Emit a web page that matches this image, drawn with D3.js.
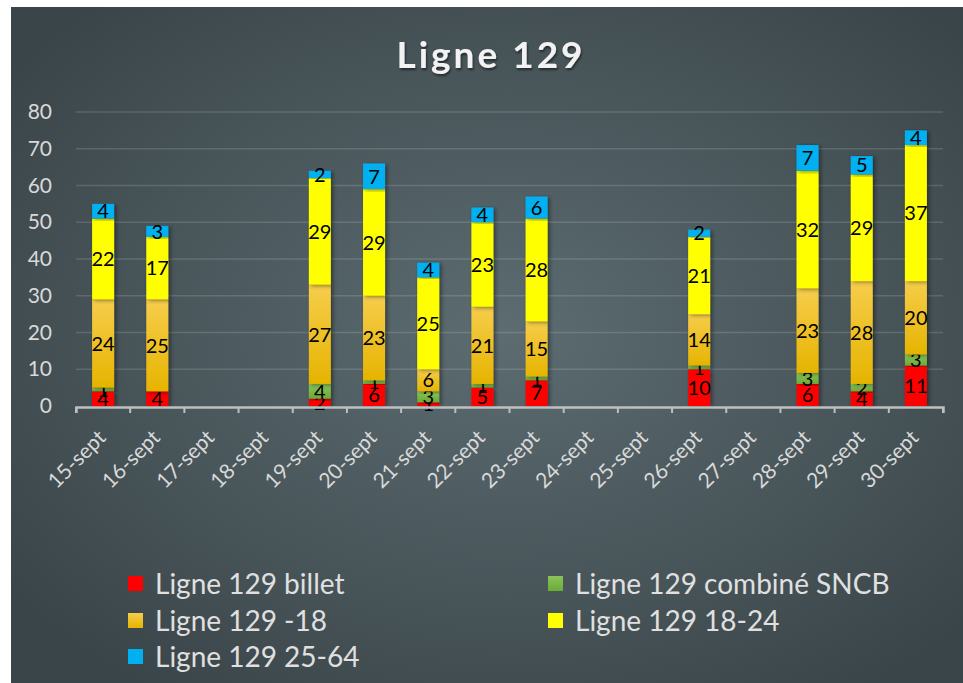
<!DOCTYPE html>
<html>
<head>
<meta charset="utf-8">
<script src="https://cdn.jsdelivr.net/npm/d3@7"></script>
<style>
  body { margin: 0; background: #fff; }
  svg { display: block; font-family: Lato, "Open Sans", sans-serif; }
</style>
</head>
<body>
<svg id="chart" width="963" height="683"></svg>
<script>
// data
var dates = ['15-sept','16-sept','17-sept','18-sept','19-sept','20-sept','21-sept','22-sept',
             '23-sept','24-sept','25-sept','26-sept','27-sept','28-sept','29-sept','30-sept'];
var seriesNames = ['Ligne 129 billet','Ligne 129 combiné SNCB','Ligne 129 -18','Ligne 129 18-24','Ligne 129 25-64'];
var billet  = [4, 4, 0, 0, 2, 6, 1, 5, 7, 0, 0, 10, 0, 6, 4, 11];
var combine = [1, 0, 0, 0, 4, 1, 3, 1, 1, 0, 0, 1, 0, 3, 2, 3];
var moins18 = [24, 25, 0, 0, 27, 23, 6, 21, 15, 0, 0, 14, 0, 23, 28, 20];
var a18_24  = [22, 17, 0, 0, 29, 29, 25, 23, 28, 0, 0, 21, 0, 32, 29, 37];
var a25_64  = [4, 3, 0, 0, 2, 7, 4, 4, 6, 0, 0, 2, 0, 7, 5, 4];
var yTicks = [0, 10, 20, 30, 40, 50, 60, 70, 80];

var keys = ['billet','combine','moins18','a18_24','a25_64'];
var fills = ['url(#gRed)','url(#gGreen)','url(#gOrange)','url(#gYellow)','url(#gBlue)'];

var table = dates.map(function(d, i) {
  return {date: d, billet: billet[i], combine: combine[i], moins18: moins18[i],
          a18_24: a18_24[i], a25_64: a25_64[i]};
});

var svg = d3.select('#chart');
var defs = svg.append('defs');

var bg = defs.append('radialGradient').attr('id', 'bg')
  .attr('cx', '52%').attr('cy', '48%').attr('r', '65%');
bg.append('stop').attr('offset', '0%').attr('stop-color', '#5c6c71');
bg.append('stop').attr('offset', '100%').attr('stop-color', '#3a4549');

function vgrad(id, top, bottom) {
  var g = defs.append('linearGradient').attr('id', id)
    .attr('x1', 0).attr('y1', 0).attr('x2', 0).attr('y2', 1);
  g.append('stop').attr('offset', '0%').attr('stop-color', top);
  g.append('stop').attr('offset', '100%').attr('stop-color', bottom);
}
vgrad('gRed', '#ff0000', '#ff0000');
vgrad('gGreen', '#8cc35a', '#6aab35');
vgrad('gOrange', '#f6cd4c', '#e6b400');
vgrad('gYellow', '#ffff00', '#ffff00');
vgrad('gBlue', '#00b0f0', '#00b0f0');

var shadow = defs.append('filter').attr('id', 'shadow')
  .attr('x', '-20%').attr('y', '-5%').attr('width', '160%').attr('height', '115%');
shadow.append('feDropShadow').attr('dx', 2).attr('dy', 1).attr('stdDeviation', 2)
  .attr('flood-color', '#000').attr('flood-opacity', 0.45);

var tshadow = defs.append('filter').attr('id', 'tshadow');
tshadow.append('feDropShadow').attr('dx', 1).attr('dy', 2).attr('stdDeviation', 1.2)
  .attr('flood-color', '#000').attr('flood-opacity', 0.5);

svg.append('rect')
  .attr('x', 11).attr('y', 7).attr('width', 952).attr('height', 676)
  .attr('fill', 'url(#bg)');

// title
svg.append('text')
  .attr('x', 491).attr('y', 68)
  .attr('text-anchor', 'middle')
  .attr('fill', '#f2f2f2')
  .attr('font-size', 37).attr('font-weight', 'bold')
  .attr('letter-spacing', 3)
  .attr('filter', 'url(#tshadow)')
  .text('Ligne 129');

// scales
var x = d3.scaleBand().domain(dates).range([76, 943]).padding(0);
var y = d3.scaleLinear().domain([0, 80]).range([406, 112]);
var barW = 22;

// gridlines
svg.append('g').selectAll('line')
  .data(yTicks.filter(function(t) { return t > 0; }))
  .enter().append('line')
    .attr('x1', 76).attr('x2', 943)
    .attr('y1', function(d) { return y(d); })
    .attr('y2', function(d) { return y(d); })
    .attr('stroke', '#ffffff').attr('stroke-opacity', 0.14).attr('stroke-width', 1.5);

// y axis labels
var yAxis = d3.axisLeft(y).tickValues(yTicks).tickSize(0).tickPadding(0);
svg.append('g')
  .attr('transform', 'translate(52,0)')
  .call(yAxis)
  .call(function(g) { g.select('.domain').remove(); })
  .selectAll('text')
    .attr('fill', '#d9d9d9')
    .attr('font-size', 21)
    .attr('font-family', 'Lato, "Open Sans", sans-serif');

// stacked bars
var stack = d3.stack().keys(keys)(table);
var layers = svg.append('g').selectAll('g')
  .data(stack)
  .enter().append('g')
    .attr('fill', function(d, i) { return fills[i]; });

layers.selectAll('rect')
  .data(function(d) { return d.filter(function(s) { return s[1] - s[0] > 0; }); })
  .enter().append('rect')
    .attr('x', function(d) { return x(d.data.date) + x.bandwidth() / 2 - barW / 2; })
    .attr('y', function(d) { return y(d[1]); })
    .attr('width', barW)
    .attr('height', function(d) { return y(d[0]) - y(d[1]); })
    .attr('filter', 'url(#shadow)');

// x axis
var xAxis = d3.axisBottom(x).tickSize(6).tickSizeOuter(6).tickFormat('');
var xg = svg.append('g')
  .attr('transform', 'translate(0,407)')
  .call(xAxis);
xg.select('.domain').attr('stroke', '#bfbfbf').attr('stroke-width', 2.5);
xg.selectAll('.tick line').remove();
// tick marks on band edges
xg.selectAll('line.edge')
  .data(d3.range(dates.length + 1))
  .enter().append('line')
    .attr('class', 'edge')
    .attr('x1', function(i) { return 76 + i * x.step(); })
    .attr('x2', function(i) { return 76 + i * x.step(); })
    .attr('y1', 0).attr('y2', 6)
    .attr('stroke', '#bfbfbf').attr('stroke-width', 2);

// x labels
svg.append('g').selectAll('text')
  .data(dates)
  .enter().append('text')
    .attr('transform', function(d) {
      return 'translate(' + (x(d) + x.bandwidth() / 2 + 4) + ',439) rotate(-45)';
    })
    .attr('text-anchor', 'end')
    .attr('fill', '#d9d9d9')
    .attr('font-size', 21)
    .text(function(d) { return d; });

// value labels
layers.selectAll('text')
  .data(function(d) { return d.filter(function(s) { return s[1] - s[0] > 0; }); })
  .enter().append('text')
    .attr('x', function(d) { return x(d.data.date) + x.bandwidth() / 2; })
    .attr('y', function(d) { return (y(d[0]) + y(d[1])) / 2; })
    .attr('dy', '0.36em')
    .attr('text-anchor', 'middle')
    .attr('fill', '#000')
    .attr('font-size', 20)
    .text(function(d) { return d[1] - d[0]; });

// legend
var legendPos = [[128, 584], [548, 584], [128, 621], [548, 621], [128, 657]];
var legend = svg.append('g').selectAll('g')
  .data(seriesNames)
  .enter().append('g')
    .attr('transform', function(d, i) {
      return 'translate(' + legendPos[i][0] + ',' + legendPos[i][1] + ')';
    });
legend.append('rect')
  .attr('x', 0).attr('y', -8).attr('width', 15).attr('height', 15)
  .attr('fill', function(d, i) { return fills[i]; });
legend.append('text')
  .attr('x', 27).attr('dy', '0.36em')
  .attr('fill', '#e0e0e0')
  .attr('font-size', 28)
  .text(function(d) { return d; });
</script>
</body>
</html>
